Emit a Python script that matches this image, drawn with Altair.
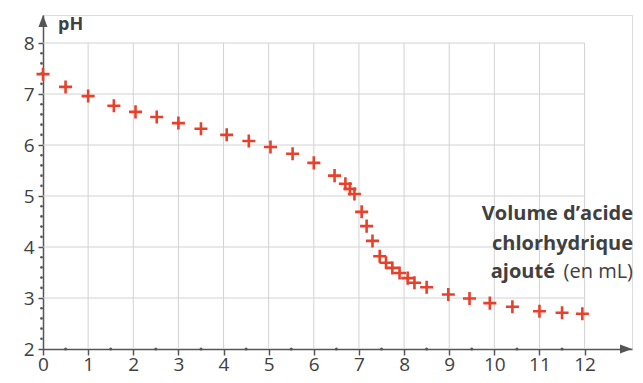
import altair as alt
import pandas as pd

volume = [0, 0.5, 1.0, 1.57, 2.05, 2.52, 3.0, 3.5, 4.07, 4.56, 5.04, 5.53, 6.0,
          6.46, 6.7, 6.8, 6.9, 7.06, 7.17, 7.3, 7.46, 7.6, 7.74, 7.9, 8.08, 8.23,
          8.5, 8.98, 9.45, 9.9, 10.4, 11.0, 11.5, 11.95]
ph = [7.39, 7.14, 6.96, 6.77, 6.65, 6.55, 6.43, 6.32, 6.2, 6.08, 5.96, 5.83, 5.65,
      5.4, 5.24, 5.14, 5.04, 4.69, 4.41, 4.12, 3.82, 3.69, 3.59, 3.49, 3.39, 3.3,
      3.21, 3.07, 2.99, 2.9, 2.83, 2.74, 2.71, 2.69]

x_ticks = list(range(0, 13))
y_ticks = list(range(2, 9))
x_minor = [i + 0.5 for i in range(0, 12)]
y_minor = [round(2 + 0.2 * i, 1) for i in range(1, 30) if i % 5 != 0]

x_max = 13.05
y_max = 8.55

FONT = "Open Sans"
TXT = "#404040"
AX = "#555555"
GRID = "#d2d2d2"
RED = "#e8402a"

xs = alt.Scale(domain=[0, x_max], nice=False, zero=False)
ys = alt.Scale(domain=[2, y_max], nice=False, zero=False)

df = pd.DataFrame({"v": volume, "ph": ph})

base = alt.Chart(df).mark_point(
    shape="M-1,0H1M0,-1V1", filled=False, strokeWidth=2.6, size=170, color=RED, opacity=1
).encode(
    x=alt.X("v:Q", scale=xs, axis=alt.Axis(
        values=x_ticks, title=None, grid=False, domainColor=AX, domainWidth=1.5,
        tickColor=AX, tickWidth=1.5, tickSize=6, labelPadding=0, labelFont=FONT,
        labelFontSize=19, labelColor=TXT, labelFlush=False)),
    y=alt.Y("ph:Q", scale=ys, axis=alt.Axis(
        values=y_ticks, title=None, grid=False, domainColor=AX, domainWidth=1.5,
        tickColor=AX, tickWidth=1.5, tickSize=5, labelPadding=4, labelFont=FONT,
        labelFontSize=19, labelColor=TXT, labelFlush=False)),
)

vgrid = alt.Chart(pd.DataFrame({"g": x_ticks[1:]})).mark_rule(
    color=GRID, strokeWidth=1).encode(
    x=alt.X("g:Q", scale=xs), y=alt.datum(2), y2=alt.datum(8))
hgrid = alt.Chart(pd.DataFrame({"g": y_ticks[1:]})).mark_rule(
    color=GRID, strokeWidth=1).encode(
    y=alt.Y("g:Q", scale=ys), x=alt.datum(0), x2=alt.datum(12))

xminor = alt.Chart(pd.DataFrame({"m": x_minor})).mark_point(
    shape="circle", filled=True, size=9, color=AX, opacity=1).encode(
    x=alt.X("m:Q", scale=xs), y=alt.datum(2))
yminor = alt.Chart(pd.DataFrame({"m": y_minor})).mark_point(
    shape="circle", filled=True, size=7, color=AX, opacity=1, xOffset=-1.5).encode(
    y=alt.Y("m:Q", scale=ys), x=alt.datum(0))

arrow_x = alt.Chart(pd.DataFrame({"a": [x_max]})).mark_point(
    shape="M0,0L-2,-0.75L-2,0.75Z", filled=True, size=144, color=AX, opacity=1).encode(
    x=alt.X("a:Q", scale=xs), y=alt.datum(2))
arrow_y = alt.Chart(pd.DataFrame({"a": [y_max]})).mark_point(
    shape="M0,0L-0.75,2L0.75,2Z", filled=True, size=144, color=AX, opacity=1).encode(
    y=alt.Y("a:Q", scale=ys), x=alt.datum(0))

ph_label = alt.Chart(pd.DataFrame({"t": ["pH"]})).mark_text(
    font=FONT, fontSize=18, fontWeight="bold", color=TXT, align="left",
    baseline="alphabetic").encode(text="t:N", x=alt.value(15), y=alt.value(15))

title_lines = ["Volume d\u2019acide", "chlorhydrique", "ajouté"]
title_unit = ["(en mL)"]

def title_text(txt, px, py, weight):
    return alt.Chart(pd.DataFrame({"t": [txt]})).mark_text(
        font=FONT, fontSize=20, fontWeight=weight, color=TXT, align="right",
        baseline="alphabetic").encode(text="t:N", x=alt.value(px), y=alt.value(py))

t1 = title_text(title_lines[0], 590, 205, "bold")
t2 = title_text(title_lines[1], 590, 235, "bold")
t3 = title_text(title_lines[2], 512, 263, "bold")
t4 = title_text(title_unit[0], 590, 263, "normal")

chart = alt.layer(
    vgrid, hgrid, xminor, yminor, arrow_x, arrow_y, base, ph_label, t1, t2, t3, t4
).properties(
    width=589, height=334,
    autosize=alt.AutoSizeParams(type="none"),
    padding={"left": 35, "top": 7, "right": 2, "bottom": 26},
).configure_view(stroke=None).configure(background="white")

chart.save("out.html", embed_options={"renderer": "svg", "actions": False})
